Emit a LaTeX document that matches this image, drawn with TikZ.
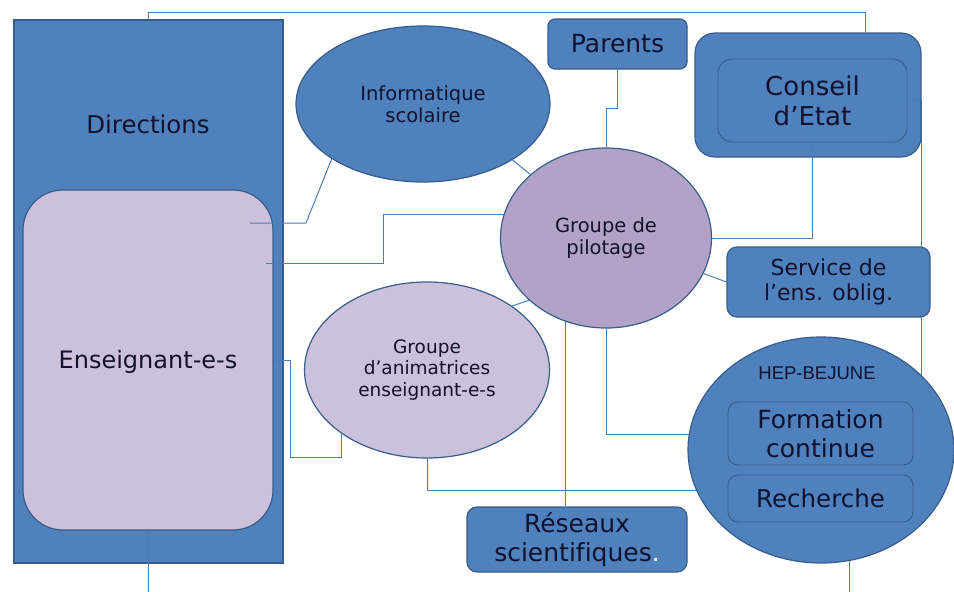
\documentclass[tikz,border=0pt]{standalone}
\usepackage{fontspec}
\setmainfont[Ligatures=NoCommon]{DejaVu Sans}
\newfontfamily\arialf{Liberation Sans}
\usetikzlibrary{shapes.geometric,backgrounds}
\definecolor{ofblue}{HTML}{4F81BD}
\definecolor{ofborder}{HTML}{385D8A}
\definecolor{lav}{HTML}{CCC1DA}
\definecolor{lavdark}{HTML}{B3A2C7}
\definecolor{conncol}{HTML}{4A7EB0}
\definecolor{txt}{HTML}{12122E}
\newcommand\fsz[1]{\fontsize{#1}{\dimexpr #1pt*115/100\relax}\selectfont}
\begin{document}
\begin{tikzpicture}[x=1pt,y=-1pt,
  box/.style={rectangle, draw=ofborder, line width=1.2pt, fill=ofblue, inner sep=0pt, text=txt, align=center},
  ibox/.style={box, line width=0.9pt},
  ell/.style={ellipse, draw=ofborder, line width=1.2pt, inner sep=0pt, text=txt, align=center},
  conn/.style={draw=conncol, line width=1pt},
  lbl/.style={text=txt, inner sep=0pt, align=center}
]
\useasboundingbox (0,0) rectangle (954,592);

% nodes
\node[box, minimum width=269, minimum height=543] (dir) at (148.5,291.5) {};
\node[lbl, font=\fsz{24.5}] (dirt) at (148,124) {Directions};
\node[box, fill=lav, rounded corners=40pt, minimum width=250, minimum height=340] (ens) at (148,360) {};
\node[lbl, font=\fsz{24}] (enst) at (148,362) {Enseignant-e-s};

\node[ell, fill=ofblue, minimum width=254, minimum height=156, font=\fsz{19.5}] (info) at (423,104) {Informatique\\scolaire};
\node[box, rounded corners=7pt, minimum width=139, minimum height=50, font=\fsz{25}] (par) at (617.5,44) {Parents};
\node[ell, fill=lavdark, minimum width=211, minimum height=180, font=\fsz{19.5}] (pil) at (606,238) {Groupe de\\pilotage};

\node[box, rounded corners=20pt, minimum width=226, minimum height=124] (cons) at (808,95) {};
\node[ibox, rounded corners=14pt, minimum width=189, minimum height=83, font=\fsz{26}] (consi) at (812.5,100.5) {Conseil\\d’Etat};
\node[box, rounded corners=10pt, minimum width=203, minimum height=70, font=\fsz{22}] (serv) at (828.5,282) {Service de\\l’ens. oblig.};

\node[ell, fill=lav, minimum width=245, minimum height=176, font=\fsz{18.5}] (anim) at (427,370) {Groupe\\d’animatrices\\enseignant-e-s};
\node[box, rounded corners=10pt, minimum width=220, minimum height=65, font=\fsz{25}] (res) at (577,539.5) {Réseaux\\scientifiques{\color{white}.}};

\node[ell, fill=ofblue, minimum width=266, minimum height=226] (hep) at (821,450) {};
\node[lbl, font=\arialf\fsz{18.5}] (hept) at (817,373) {HEP-BEJUNE};
\node[ibox, rounded corners=10pt, minimum width=185, minimum height=63, font=\fsz{25}] (form) at (820.5,433.5) {Formation\\continue};
\node[ibox, rounded corners=10pt, minimum width=185, minimum height=47, font=\fsz{24.5}] (rech) at (820.5,498.5) {Recherche};

% helper coordinates
\coordinate (tR) at (865,12);
\coordinate (bot) at (0,592);
\coordinate (rx) at (565,0);
\coordinate (hx) at (849,0);
\coordinate (e1) at (250,223);
\coordinate (e2) at (266,263);

% connectors behind the shapes
\begin{pgfonlayer}{background}
\fill[white] (0,0) rectangle (954,592);
\draw[conn] (dir.north) |- (tR) -- (tR |- cons.north);
\draw[conn] (hx |- bot) -- (hx |- hep.center);
\draw[conn] (consi.east) -- ++(14,0) coordinate (cr) -- (cr |- hep.center);
\draw[conn] (anim.south) -- ++(0,32) coordinate (a2) -- (a2 -| hep.center);
\draw[conn] (pil.south) -- ++(0,106) coordinate (p2) -- (p2 -| hep.center);
\draw[conn] (pil.center -| rx) -- (res.north -| rx);
\end{pgfonlayer}

% connectors on top
\draw[conn] (ens.south) -- (ens.south |- bot);
\draw[conn] (e1) -- ++(56,0) -- (info.211);
\draw[conn] (e2) -- ++(117,0) |- (pil.167);
\draw[conn] (info.-32) -- (pil.140);
\draw[conn] (par.south) -- ++(0,39) -| (pil.north);
\draw[conn] (consi.south) |- (pil.east);
\draw[conn] (consi.east) -- ++(14,0);
\draw[conn] (pil.-20) -- (serv.west);
\draw[conn] (anim.37) -- (pil.219);
\draw[conn] (ens.east) -- ++(17,0) -- ++(0,97) -| (anim.217);
\end{tikzpicture}
\end{document}
